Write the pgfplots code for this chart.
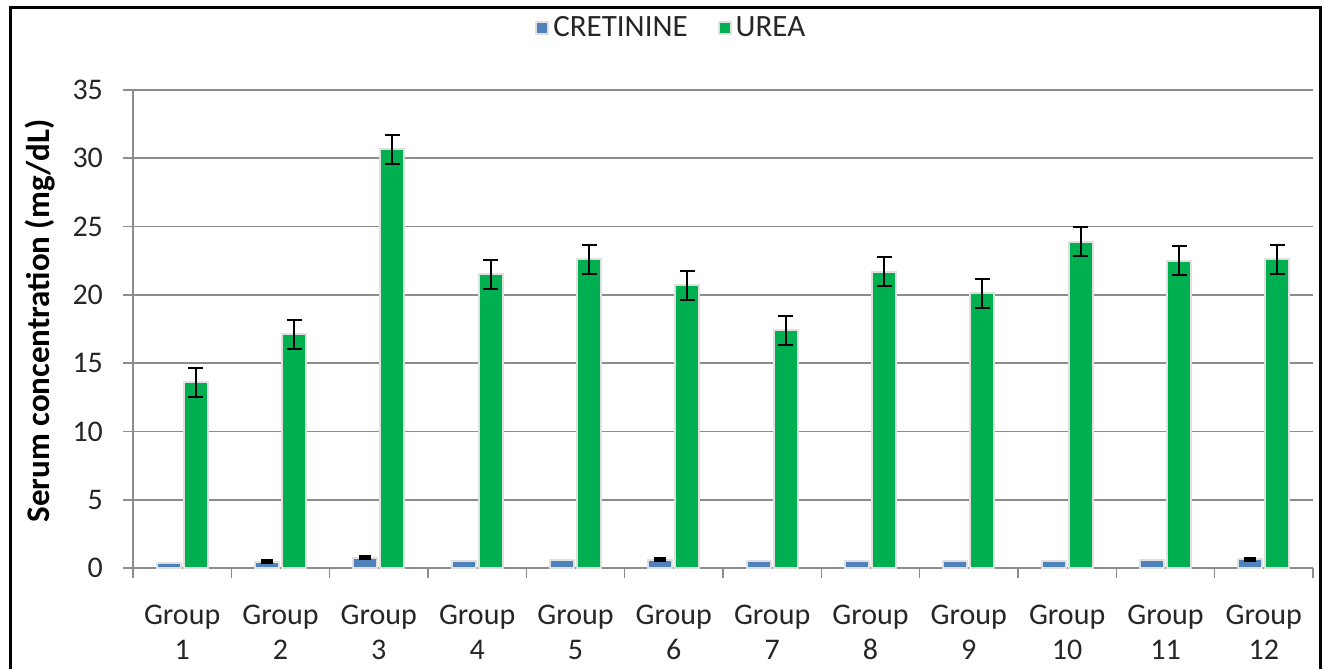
\documentclass[border=0pt]{standalone}
\usepackage{fontspec}
\setmainfont{Carlito}
\usepackage{pgfplots}
\pgfplotsset{compat=1.18}
\definecolor{creablue}{HTML}{4F81BD}
\definecolor{ureagreen}{HTML}{00B050}
\definecolor{gridgray}{HTML}{8C8C8C}
\pgfplotstableread{
x y e
0 0.40 nan
1 0.45 0.08
2 0.75 0.08
3 0.50 nan
4 0.60 nan
5 0.60 0.08
6 0.50 nan
7 0.50 nan
8 0.50 nan
9 0.50 nan
10 0.60 nan
11 0.65 0.08
}\crea
\pgfplotstableread{
x y e
0 13.6 1.05
1 17.1 1.05
2 30.65 1.05
3 21.5 1.05
4 22.6 1.05
5 20.7 1.05
6 17.4 1.05
7 21.7 1.05
8 20.1 1.05
9 23.9 1.05
10 22.5 1.05
11 22.6 1.05
}\urea
\begin{document}
\begin{tikzpicture}
\path[use as bounding box] (0,0) rectangle (662.5pt,334pt);
\draw[line width=1.5pt] (5pt,-2pt) -- (5pt,330pt) -- (660pt,330pt) -- (660pt,-2pt);
\begin{axis}[
  at={(66.5pt,50pt)}, anchor=south west,
  scale only axis, width=590pt, height=239pt,
  ybar=1.5pt, bar width=12pt,
  xmin=-0.5, xmax=11.5, ymin=0, ymax=35,
  ytick={0,5,...,35},
  xtick={-0.5,0.5,...,11.5},
  x tick label as interval,
  xticklabels={Group\\1,Group\\2,Group\\3,Group\\4,Group\\5,Group\\6,Group\\7,Group\\8,Group\\9,Group\\10,Group\\11,Group\\12},
  x tick label style={align=center, font=\fontsize{15}{17.5}\selectfont, text=black!85, yshift=-10pt},
  y tick label style={font=\fontsize{15}{17}\selectfont, text=black!85, xshift=-6.5pt},
  /pgf/number format/assume math mode=true,
  axis x line*=bottom, axis y line*=left,
  axis line style={gridgray, line width=0.8pt},
  tick align=outside, major tick length=5pt,
  tick style={gridgray, line width=0.8pt},
  ymajorgrids, grid style={gridgray, line width=0.8pt},
  ylabel={Serum concentration (mg/dL)},
  ylabel style={at={(axis description cs:-0.0788,0.517)}, anchor=center, font=\bfseries\fontsize{16.5}{18}\selectfont, text=black},
  legend style={at={(0.457,1.13)}, anchor=center, draw=none, fill=none, legend columns=2,
    font=\fontsize{15.5}{17}\selectfont, text=black!85,
    /tikz/every even column/.append style={column sep=13pt}},
  legend image code/.code={\fill[#1] (0pt,-3pt) rectangle (6pt,3pt);},
]
\addplot[fill=creablue, draw=black!12, line width=1pt,
  error bars/.cd, y dir=both, y explicit,
  error bar style={black, line width=1pt},
  error mark options={rotate=90, black, line width=1.5pt, mark size=3pt}]
  table[x=x, y=y, y error=e] {\crea};
\addlegendentry{CRETININE}
\addplot[fill=ureagreen, draw=black!12, line width=1pt,
  error bars/.cd, y dir=both, y explicit,
  error bar style={black, line width=1pt},
  error mark options={rotate=90, black, line width=1pt, mark size=3.75pt}]
  table[x=x, y=y, y error=e] {\urea};
\addlegendentry{UREA}
\end{axis}
\end{tikzpicture}
\end{document}
